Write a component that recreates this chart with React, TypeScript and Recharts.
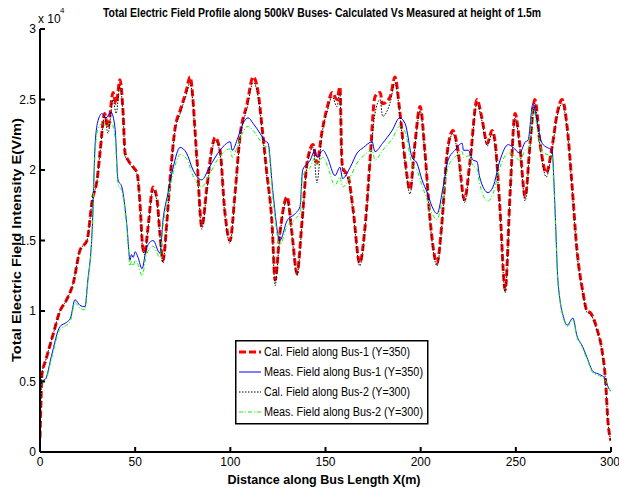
import React from "react";
import { LineChart, Line, XAxis, YAxis, Legend } from "recharts";

// Calculated fields (shared x grid), V/m
const calX = [0, 0.5, 1, 3, 7, 10.5, 14, 17.5, 21, 24.7, 27.5, 30, 31.5, 34, 35.7, 38.4, 40, 42, 43.6, 44.7, 46.3, 49, 51, 52.5, 54, 55, 56.8, 59.4, 61.5, 63, 64.6, 66.7, 68.3, 71, 73.6, 77, 78.8, 82.5, 85, 87.7, 90.4, 92, 94.6, 97, 99.8, 102.5, 105, 108.8, 112, 114.6, 116.7, 119, 122, 123.5, 126, 129.8, 132.4, 135, 137.7, 140.3, 143.5, 145.5, 148, 151, 153.5, 156, 157.6, 158.5, 159, 162, 164.5, 168, 170.8, 173.4, 176, 178.7, 180, 184, 186.5, 189, 191.8, 194.4, 197, 199.7, 202.3, 205, 208.6, 211, 213.9, 217, 219.6, 223, 226, 229.6, 232, 235, 237.5, 239, 241.7, 244.4, 247, 249.6, 252, 254.9, 257.5, 260, 262.7, 266, 269, 271.7, 274.3, 277, 279.6, 282, 285.3, 287.4, 289, 292.7, 295.3, 297, 298.5, 300];
const cal1Y = [1000, 3500, 5500, 6500, 8400, 10000, 10800, 12000, 14300, 15000, 17900, 19300, 21200, 24000, 23000, 25500, 24700, 26400, 24200, 21200, 20700, 20200, 19800, 17700, 14500, 14100, 16000, 18800, 17900, 15500, 13600, 16400, 19300, 23000, 24200, 25700, 26600, 20700, 16000, 18800, 21600, 22300, 21400, 17200, 15000, 18400, 22300, 24700, 26600, 25500, 23000, 20000, 16000, 12200, 15500, 18100, 15500, 12700, 16400, 20500, 21800, 20500, 22600, 24500, 25500, 25000, 25900, 21000, 20200, 19500, 17200, 13400, 16000, 20700, 25200, 25500, 24700, 25200, 26600, 24200, 20700, 18600, 21900, 24500, 21200, 16400, 13400, 16000, 21200, 22800, 21400, 17900, 20700, 25000, 23800, 21900, 22800, 22100, 17200, 11500, 18400, 24000, 21900, 18100, 21900, 25000, 21900, 19800, 21600, 24000, 25000, 23000, 18800, 14500, 11300, 10000, 9900, 8700, 7200, 5300, 2000, 800];
const cal2Y = [1000, 3500, 5500, 6500, 8400, 10000, 10800, 12000, 14300, 15000, 17900, 19300, 21200, 23800, 22600, 25000, 24000, 26000, 24000, 21000, 20600, 20100, 19700, 17600, 14300, 14000, 15900, 18600, 17700, 15300, 13400, 16300, 19200, 22800, 24000, 25400, 26200, 20500, 15800, 18600, 21400, 22100, 21200, 17000, 14800, 18200, 22100, 24400, 26200, 25200, 22800, 19800, 15800, 11800, 15300, 17900, 15300, 12500, 16200, 20300, 21600, 19100, 22400, 24200, 25200, 24500, 25500, 20800, 20000, 19300, 17000, 13200, 15800, 20400, 24000, 25000, 23800, 24800, 26200, 24000, 20500, 18300, 21700, 24200, 21000, 16200, 13200, 15800, 21000, 22600, 21000, 17700, 20500, 24700, 23600, 21700, 22600, 21800, 17000, 11300, 18200, 23700, 21700, 17800, 21700, 24700, 21700, 19500, 21400, 23800, 24700, 22800, 18600, 14300, 11200, 9900, 9800, 8600, 7100, 5200, 2000, 800];

// Measured fields (shared x grid), V/m
const measX = [0, 1, 3, 6, 10.5, 14, 16, 18.4, 21, 23.6, 25, 27.5, 29, 30.5, 32.5, 34.7, 37.3, 39.4, 41, 43, 45.7, 47.3, 48, 49, 50, 51.5, 53.6, 56, 59.4, 63, 64.6, 67.3, 70, 73.6, 77, 80.4, 85, 89, 94.6, 100, 101, 104, 106.7, 109.3, 112, 115.6, 118, 119.8, 122.4, 126, 129.8, 134, 136.6, 138, 142, 144.5, 145.5, 148.7, 151, 155, 157.6, 159, 163, 166.6, 170, 174.5, 176, 180, 185, 189, 191.8, 195.5, 198, 200.7, 203.4, 206, 208.6, 211.8, 214.4, 218, 221.8, 222.5, 225, 227.5, 229.6, 231, 235.4, 238, 241.7, 246, 248.6, 252, 255, 256.4, 259, 261.7, 263.8, 266.4, 269, 270.6, 272, 273, 275, 277, 280, 282, 285, 287.4, 290.6, 294, 297, 298.5, 300];
const meas1Y = [4500, 5000, 5200, 6800, 8900, 9200, 9500, 10800, 10400, 10300, 12000, 16000, 21900, 23500, 24000, 23700, 24100, 23000, 19300, 18800, 16000, 13600, 14000, 13800, 14200, 13800, 13000, 14500, 15000, 14100, 16400, 18400, 20200, 21600, 21200, 20000, 19300, 20200, 21400, 22000, 21400, 22300, 23300, 23700, 23300, 22600, 22100, 21900, 18400, 15000, 16400, 16900, 17400, 20000, 20700, 21400, 20900, 21400, 20900, 19600, 20200, 19400, 20200, 21200, 21600, 22000, 21300, 21900, 22800, 23700, 23300, 20900, 20500, 19300, 18400, 17400, 16900, 18800, 20700, 21400, 21900, 21400, 21400, 20700, 20600, 19500, 18400, 18800, 20700, 21800, 21600, 21200, 22000, 22100, 24700, 23000, 21900, 21600, 21400, 17200, 12400, 11000, 9600, 9000, 9500, 8300, 7500, 6700, 5700, 5500, 5200, 4600, 4300];
const meas2Y = [4300, 4900, 5100, 6600, 8700, 9000, 9300, 10600, 10200, 10100, 11800, 15800, 21400, 22900, 23300, 23100, 23400, 22400, 19000, 18500, 15800, 13200, 13500, 13200, 13600, 13300, 12500, 14000, 14600, 13800, 16000, 18100, 19800, 21100, 20800, 19600, 18800, 19700, 21000, 21500, 20900, 21800, 22700, 23100, 22800, 22100, 21700, 21600, 18000, 14700, 16000, 16500, 17000, 19600, 20200, 20900, 20400, 20900, 20300, 18900, 19500, 18800, 19500, 20500, 21000, 21400, 20700, 21400, 22200, 23100, 22700, 20400, 20000, 18900, 17900, 16900, 16500, 18300, 20200, 20900, 21300, 20900, 21000, 20300, 20100, 19000, 17800, 18300, 20200, 21200, 21100, 20700, 21400, 21500, 24400, 22600, 21300, 21100, 21000, 17000, 12300, 10900, 9500, 8900, 9400, 8200, 7400, 6600, 5600, 5400, 5100, 4600, 4300];

const xTicks = [0, 50, 100, 150, 200, 250, 300];
const yTicks = [0, 5000, 10000, 15000, 20000, 25000, 30000];

const seriesNames = [
  "Cal. Field along Bus-1 (Y=350)",
  "Meas. Field along Bus-1 (Y=350)",
  "Cal. Field along Bus-2 (Y=300)",
  "Meas. Field along Bus-2 (Y=300)",
];

const toPts = (xs: number[], ys: number[]) => xs.map((x, i) => ({ x, y: ys[i] }));

const cal1 = toPts(calX, cal1Y);
const cal2 = toPts(calX, cal2Y);
const meas1 = toPts(measX, meas1Y);
const meas2 = toPts(measX, meas2Y);

const styles = [
  { color: "#ff0000", width: 3, dash: "7 3" },
  { color: "#0000ff", width: 1, dash: undefined as string | undefined },
  { color: "#000000", width: 1, dash: "1.5 1.5" },
  { color: "#00ff00", width: 1, dash: "4 2 1 2" },
];

const FONT = "'Liberation Sans Narrow', 'Arial Narrow', 'Liberation Sans', Arial, sans-serif";
const tickStyle = { fontSize: 12, fill: "#000", fontFamily: "'Liberation Sans', Arial, sans-serif" };

const LegendBox = () => (
  <svg width={194} height={85} style={{ display: "block", overflow: "visible" }}>
    <rect x={0.75} y={0.75} width={192} height={83} fill="#fff" stroke="#000" strokeWidth={1.5} />
    {seriesNames.map((n, i) => {
      const y = 12 + i * 20;
      const s = styles[i];
      return (
        <g key={n}>
          <line x1={4} x2={26} y1={y} y2={y} stroke={s.color} strokeWidth={s.width} strokeDasharray={s.dash} />
          <text x={29} y={y + 4} fontSize={12} fontFamily={FONT} fill="#000" textLength={i % 2 === 1 ? 159 : 146} lengthAdjust="spacingAndGlyphs">
            {n}
          </text>
        </g>
      );
    })}
  </svg>
);

export default function App() {
  return (
    <div style={{ position: "absolute", left: 0, top: 0, width: 619, height: 493, background: "#fff" }}>
      <LineChart width={619} height={493} margin={{ top: 29, right: 8, left: 0, bottom: 0 }}>
        <XAxis
          type="number"
          dataKey="x"
          domain={[0, 300]}
          ticks={xTicks}
          height={41}
          tickSize={-5}
          tickMargin={10}
          tick={tickStyle}
          stroke="#000"
          strokeWidth={2}
          allowDataOverflow
        />
        <XAxis
          xAxisId="top"
          orientation="top"
          type="number"
          dataKey="x"
          domain={[0, 300]}
          ticks={xTicks}
          height={0}
          tickSize={-5}
          tick={false}
          stroke="#000"
          strokeWidth={1}
        />
        <YAxis
          type="number"
          domain={[0, 30000]}
          ticks={yTicks}
          width={40}
          tickSize={-5}
          tickMargin={9}
          tick={tickStyle}
          tickFormatter={(v: number) => String(v / 10000)}
          stroke="#000"
          strokeWidth={2}
          allowDataOverflow
        />
        <YAxis
          yAxisId="right"
          orientation="right"
          type="number"
          domain={[0, 30000]}
          ticks={yTicks}
          width={0}
          tickSize={-5}
          tick={false}
          stroke="#000"
          strokeWidth={1}
        />
        <Line data={cal1} dataKey="y" name={seriesNames[0]} type="monotone" stroke={styles[0].color} strokeWidth={3} strokeDasharray={styles[0].dash} dot={false} isAnimationActive={false} />
        <Line data={meas1} dataKey="y" name={seriesNames[1]} type="monotone" stroke={styles[1].color} strokeWidth={1} dot={false} isAnimationActive={false} />
        <Line data={cal2} dataKey="y" name={seriesNames[2]} type="monotone" stroke={styles[2].color} strokeWidth={1} strokeDasharray={styles[2].dash} dot={false} isAnimationActive={false} />
        <Line data={meas2} dataKey="y" name={seriesNames[3]} type="monotone" stroke={styles[3].color} strokeWidth={1} strokeDasharray={styles[3].dash} dot={false} isAnimationActive={false} />
        <Legend
          layout="vertical"
          align="center"
          verticalAlign="middle"
          content={() => <LegendBox />}
          wrapperStyle={{ position: "absolute", left: 235, top: 340, width: 194, height: 85 }}
        />
      </LineChart>
      <svg width={619} height={493} style={{ position: "absolute", left: 0, top: 0, pointerEvents: "none" }}>
        <text x={322} y={17} textAnchor="middle" fontSize={12} fontWeight="bold" fontFamily={FONT} textLength={438} lengthAdjust="spacingAndGlyphs">
          Total Electric Field Profile along 500kV Buses- Calculated Vs Measured at height of 1.5m
        </text>
        <text x={38} y={23} fontSize={12} fontFamily={FONT}>x 10</text>
        <text x={60} y={13} fontSize={8} fontFamily={FONT}>4</text>
        <text x={324} y={484} textAnchor="middle" fontSize={12} fontWeight="bold" fontFamily={FONT} textLength={193} lengthAdjust="spacingAndGlyphs">
          Distance along Bus Length X(m)
        </text>
        <text transform="translate(21,240) rotate(-90)" textAnchor="middle" fontSize={12} fontWeight="bold" fontFamily={FONT} textLength={244} lengthAdjust="spacingAndGlyphs">
          Total Electric Field Intensity E(V/m)
        </text>
      </svg>
    </div>
  );
}
